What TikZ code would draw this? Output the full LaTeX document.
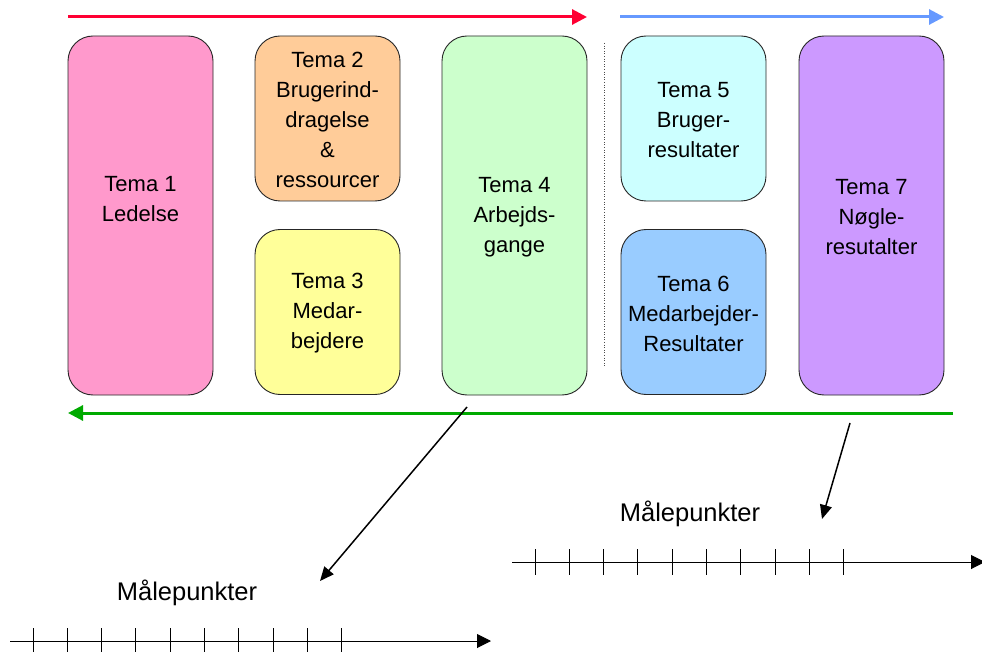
\documentclass[tikz,border=0pt]{standalone}
\usepackage{fontspec}
\setmainfont{Liberation Sans}
\usetikzlibrary{arrows.meta}
\definecolor{cpink}{HTML}{FF99CC}
\definecolor{corange}{HTML}{FFCC99}
\definecolor{cyellow}{HTML}{FFFF99}
\definecolor{cgreen}{HTML}{CCFFCC}
\definecolor{ccyan}{HTML}{CCFFFF}
\definecolor{cblue}{HTML}{99CCFF}
\definecolor{cpurple}{HTML}{CC99FF}
\definecolor{cred}{HTML}{FF0033}
\definecolor{carrowblue}{HTML}{6699FF}
\definecolor{carrowgreen}{HTML}{00AA00}
\begin{document}
\begin{tikzpicture}[x=1pt,y=-1pt,
  box/.style={draw=black!85, line width=0.9pt, rounded corners=25pt, inner sep=0pt,
    minimum width=145pt},
  tall/.style={box, minimum height=359pt},
  short/.style={box, minimum height=165pt},
  txt/.style={align=center, inner sep=0pt, font=\fontsize{22}{30}\selectfont},
  flow/.style={line width=3pt, -{Triangle[length=15pt,width=15pt]}},
  point/.style={line width=1.5pt, -{Triangle[length=14pt,width=12pt]}},
  axis/.style={line width=1pt, -{Triangle[length=14pt,width=14pt]}},
  tick/.style={line width=1pt},
  lbl/.style={font=\fontsize{25.5}{30}\selectfont, inner sep=0pt}]
\useasboundingbox (0,0) rectangle (982,652);

\node[tall, fill=cpink] (t1) at (140.5,215.5) {};
\node[short, fill=corange] (t2) at (327.5,118.5) {};
\node[short, fill=cyellow] (t3) at (327.5,312) {};
\node[tall, fill=cgreen] (t4) at (514.5,215.5) {};
\node[short, fill=ccyan] (t5) at (693.5,118.5) {};
\node[short, fill=cblue] (t6) at (693.5,312) {};
\node[tall, fill=cpurple] (t7) at (871.5,215.5) {};

\node[txt] (t1t) at ([yshift=-3pt]t1.center) {Tema 1\\Ledelse\\\strut};
\node[txt] (t2t) at ([yshift=-1.5pt]t2.center) {Tema 2\\Brugerind-\\dragelse\\\&\\ressourcer};
\node[txt] (t3t) at ([yshift=-1.5pt]t3.center) {Tema 3\\Medar-\\bejdere};
\node[txt] (t4t) at ([yshift=-2pt]t4.center) {Tema 4\\Arbejds-\\gange};
\node[txt] (t5t) at ([yshift=-1.5pt]t5.center) {Tema 5\\Bruger-\\resultater};
\node[txt] (t6t) at ([yshift=-1.5pt]t6.center) {Tema 6\\Medarbejder-\\Resultater};
\node[txt] (t7t) at ([yshift=-2pt]t7.center) {Tema 7\\Nøgle-\\resutalter};

\draw[black!70, line width=0.6pt, dotted] (604,43) -- (604,367);

\coordinate (r0) at (68,17);
\coordinate (r1) at (587,17);
\coordinate (b0) at (620,17);
\coordinate (b1) at (944,17);
\coordinate (g0) at (953,413);
\coordinate (g1) at (68,413);
\draw[flow, cred] (r0) -- (r1);
\draw[flow, carrowblue] (b0) -- (b1);
\draw[flow, carrowgreen] (g0) -- (g1);

\node[lbl] (m1) at (187,593) {Målepunkter};
\node[lbl] (m2) at (690,514) {Målepunkter};

\coordinate (p0) at (467,407);
\coordinate (p1) at (320,581);
\coordinate (q0) at (850,423);
\coordinate (q1) at (822,519);
\draw[point] (p0) -- (p1);
\draw[point] (q0) -- (q1);

\coordinate (a0) at (10,641);
\coordinate (a1) at (491,641);
\draw[axis] (a0) -- (a1);
\foreach \i in {0,...,9} \draw[tick] ({33+34.33*\i},628) -- ({33+34.33*\i},654);
\coordinate (c0) at (512,562);
\coordinate (c1) at (985,562);
\draw[axis] (c0) -- (c1);
\foreach \i in {0,...,9} \draw[tick] ({535+34.33*\i},549) -- ({535+34.33*\i},575);
\end{tikzpicture}
\end{document}
